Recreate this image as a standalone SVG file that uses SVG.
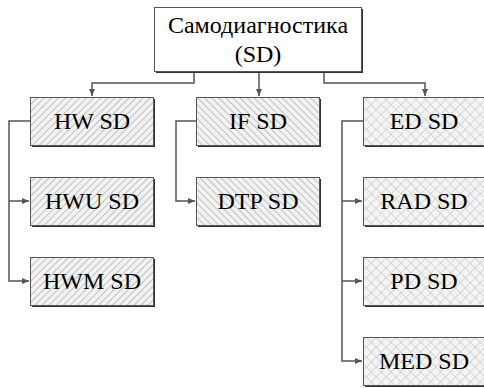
<svg xmlns="http://www.w3.org/2000/svg" width="484" height="388" viewBox="0 0 484 388">
<style>
.box{stroke:#555;stroke-width:1}
.sh{fill:#333}
.t{font-family:'Liberation Serif','Times New Roman',serif;font-size:24px;fill:#000;text-anchor:middle}
.c{fill:none;stroke:#555;stroke-width:1.5}
</style>
<defs>
<pattern id="p1" width="5" height="5" patternUnits="userSpaceOnUse" patternTransform="rotate(45)">
<rect width="5" height="5" fill="#f2f2f2"/><line x1="0" y1="0" x2="0" y2="5" stroke="#b5b5b5" stroke-width="1.6"/>
</pattern>
<pattern id="p2" width="5" height="5" patternUnits="userSpaceOnUse" patternTransform="rotate(-45)">
<rect width="5" height="5" fill="#f2f2f2"/><line x1="0" y1="0" x2="0" y2="5" stroke="#b5b5b5" stroke-width="1.6"/>
</pattern>
<pattern id="p3" width="7" height="7" patternUnits="userSpaceOnUse" patternTransform="rotate(45)">
<rect width="7" height="7" fill="#f4f4f4"/><line x1="0" y1="0" x2="0" y2="7" stroke="#bbb" stroke-width="1"/><line x1="0" y1="0" x2="7" y2="0" stroke="#bbb" stroke-width="1"/>
</pattern>
<marker id="a" markerWidth="8" markerHeight="8" refX="7" refY="4" orient="auto" markerUnits="userSpaceOnUse">
<path d="M0,1 L7,4 L0,7 Z" fill="#555"/>
</marker>
</defs>
<g id="connectors">
<path class="c" d="M194,72 V83 H92 V96" marker-end="url(#a)"/>
<path class="c" d="M259,72 V96" marker-end="url(#a)"/>
<path class="c" d="M324,72 V83 H425 V96" marker-end="url(#a)"/>
<path class="c" d="M30,121 H9 V281 H29" marker-end="url(#a)"/>
<path class="c" d="M9,201 H29" marker-end="url(#a)"/>
<path class="c" d="M196,121 H176 V201 H195" marker-end="url(#a)"/>
<path class="c" d="M363,121 H342 V361 H362" marker-end="url(#a)"/>
<path class="c" d="M342,201 H362" marker-end="url(#a)"/>
<path class="c" d="M342,281 H362" marker-end="url(#a)"/>
</g>
<g id="root">
<rect class="sh" x="156" y="9" width="207" height="64"/>
<rect class="box" x="154.5" y="7.5" width="207" height="64" fill="#fff"/>
<text class="t" x="258" y="33">Самодиагностика</text>
<text class="t" x="258" y="62">(SD)</text>
</g>
<g id="hw">
<rect class="sh" x="32" y="99" width="123" height="48"/>
<rect class="box" x="30.5" y="97.5" width="123" height="48" fill="url(#p1)"/>
<text class="t" x="92" y="129">HW SD</text>
</g>
<g id="hwu">
<rect class="sh" x="32" y="179" width="123" height="48"/>
<rect class="box" x="30.5" y="177.5" width="123" height="48" fill="url(#p1)"/>
<text class="t" x="92" y="209">HWU SD</text>
</g>
<g id="hwm">
<rect class="sh" x="32" y="259" width="123" height="48"/>
<rect class="box" x="30.5" y="257.5" width="123" height="48" fill="url(#p1)"/>
<text class="t" x="92" y="289">HWM SD</text>
</g>
<g id="if">
<rect class="sh" x="198" y="99" width="123" height="48"/>
<rect class="box" x="196.5" y="97.5" width="123" height="48" fill="url(#p2)"/>
<text class="t" x="258" y="129">IF SD</text>
</g>
<g id="dtp">
<rect class="sh" x="198" y="179" width="123" height="48"/>
<rect class="box" x="196.5" y="177.5" width="123" height="48" fill="url(#p2)"/>
<text class="t" x="258" y="209">DTP SD</text>
</g>
<g id="ed">
<rect class="sh" x="365" y="99" width="123" height="48"/>
<rect class="box" x="363.5" y="97.5" width="123" height="48" fill="url(#p3)"/>
<text class="t" x="424" y="129">ED SD</text>
</g>
<g id="rad">
<rect class="sh" x="365" y="179" width="123" height="48"/>
<rect class="box" x="363.5" y="177.5" width="123" height="48" fill="url(#p3)"/>
<text class="t" x="424" y="209">RAD SD</text>
</g>
<g id="pd">
<rect class="sh" x="365" y="259" width="123" height="48"/>
<rect class="box" x="363.5" y="257.5" width="123" height="48" fill="url(#p3)"/>
<text class="t" x="424" y="289">PD SD</text>
</g>
<g id="med">
<rect class="sh" x="365" y="339" width="123" height="48"/>
<rect class="box" x="363.5" y="337.5" width="123" height="48" fill="url(#p3)"/>
<text class="t" x="424" y="369">MED SD</text>
</g>
</svg>
